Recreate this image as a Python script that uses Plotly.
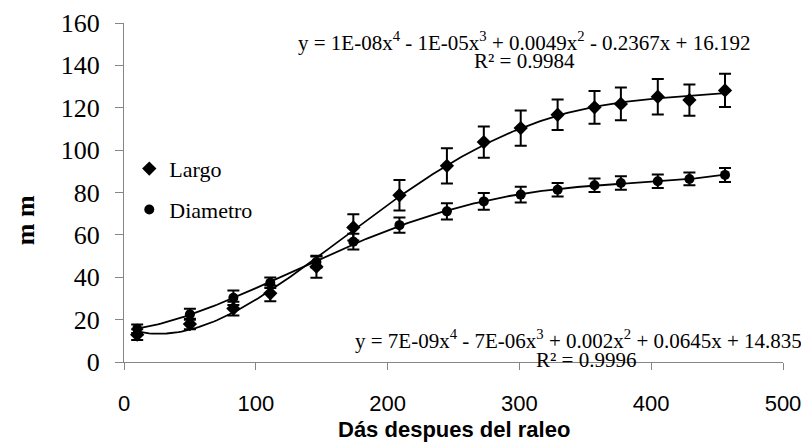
import numpy as np
import plotly.graph_objects as go

# days after thinning
dias = [10, 50, 83, 111, 146, 174, 209, 245, 273, 301, 329, 357, 377, 405, 429, 456]

largo = [12.9, 17.9, 25.2, 32.4, 45.0, 63.5, 78.7, 92.6, 103.8, 110.4,
         116.7, 120.2, 121.8, 125.2, 123.6, 128.2]
largo_err = [2.5, 2.5, 3.2, 3.7, 5.2, 6.2, 7.2, 8.3, 7.4, 8.3,
             7.2, 7.7, 7.7, 8.4, 7.4, 7.8]

diametro = [15.7, 22.5, 30.3, 37.4, 47.2, 56.8, 64.6, 71.1, 75.8, 79.0,
            81.3, 83.4, 84.5, 85.3, 86.4, 88.3]
diametro_err = [2.0, 2.6, 3.4, 2.5, 2.6, 3.7, 3.6, 3.8, 4.0, 3.7,
                3.2, 3.2, 3.2, 3.2, 3.0, 3.3]

eq_largo = ["y = 1E-08x<sup>4</sup> - 1E-05x<sup>3</sup> + 0.0049x<sup>2</sup> - 0.2367x + 16.192",
            "R² = 0.9984"]
eq_diam = ["y = 7E-09x<sup>4</sup> - 7E-06x<sup>3</sup> + 0.002x<sup>2</sup> + 0.0645x + 14.835",
           "R² = 0.9996"]

serif = "Liberation Serif"
sans = "Liberation Sans"
axis_grey = "#868686"

# 4th order polynomial trendlines, as in the spreadsheet
xs = np.linspace(min(dias), max(dias), 200)
fit_l = np.polyval(np.polyfit(dias, largo, 4), xs)
fit_d = np.polyval(np.polyfit(dias, diametro, 4), xs)

fig = go.Figure()
fig.add_trace(go.Scatter(x=xs, y=fit_l, mode="lines", line=dict(color="black", width=1.8),
                         showlegend=False, hoverinfo="skip"))
fig.add_trace(go.Scatter(x=xs, y=fit_d, mode="lines", line=dict(color="black", width=1.8),
                         showlegend=False, hoverinfo="skip"))
fig.add_trace(go.Scatter(
    x=dias, y=largo, name="Largo", mode="markers",
    marker=dict(symbol="diamond", size=11, color="black"),
    error_y=dict(type="data", array=largo_err, color="black", thickness=2, width=6),
    legend="legend"))
fig.add_trace(go.Scatter(
    x=dias, y=diametro, name="Diametro", mode="markers",
    marker=dict(symbol="circle", size=10, color="black"),
    error_y=dict(type="data", array=diametro_err, color="black", thickness=2, width=6),
    legend="legend2"))

# trendline labels (x in paper fraction of the plot width, y in data units)
ann = [
    dict(x=0.607, y=151.3, text=eq_largo[0], anchor="center"),
    dict(x=0.607, y=142.0, text=eq_largo[1], anchor="center"),
    dict(x=1.032, y=10.5, text=eq_diam[0], anchor="right"),
    dict(x=0.701, y=1.1, text=eq_diam[1], anchor="center"),
]
for a in ann:
    fig.add_annotation(x=a["x"], y=a["y"], text=a["text"], xref="paper", yref="y",
                       showarrow=False, xanchor=a["anchor"], yanchor="middle",
                       font=dict(family=serif, size=21, color="black"))

fig.add_annotation(x=-0.15, y=67, xref="paper", yref="y", text="<b>m m</b>",
                   textangle=-90, showarrow=False, xanchor="center", yanchor="middle",
                   font=dict(family=serif, size=26, color="black"))
fig.add_annotation(x=0.5, y=-0.2, xref="paper", yref="paper",
                   text="<b>Dás despues del raleo</b>",
                   showarrow=False, xanchor="center", yanchor="middle",
                   font=dict(family=sans, size=22, color="black"))

fig.update_layout(
    width=809, height=444,
    margin=dict(l=116, r=34, t=15, b=90, autoexpand=False),
    paper_bgcolor="white", plot_bgcolor="white",
    showlegend=True,
    legend=dict(x=0.008, y=0.570, xanchor="left", yanchor="middle",
                bgcolor="rgba(0,0,0,0)", font=dict(family=serif, size=22, color="black")),
    legend2=dict(x=0.008, y=0.449, xanchor="left", yanchor="middle",
                 bgcolor="rgba(0,0,0,0)", font=dict(family=serif, size=22, color="black")),
    xaxis=dict(range=[0, 500], dtick=100, showgrid=False, zeroline=False,
               showline=True, linecolor=axis_grey, linewidth=1,
               ticks="outside", ticklen=7, tickcolor=axis_grey,
               ticklabelstandoff=15, automargin=False,
               tickfont=dict(family=sans, size=22, color="black")),
    yaxis=dict(range=[0, 160], dtick=20, showgrid=False, zeroline=False,
               showline=True, linecolor=axis_grey, linewidth=1,
               ticks="outside", ticklen=8, tickcolor=axis_grey,
               ticklabelstandoff=10, automargin=False,
               tickfont=dict(family=serif, size=26, color="black")),
)

fig.write_html("out.html")
